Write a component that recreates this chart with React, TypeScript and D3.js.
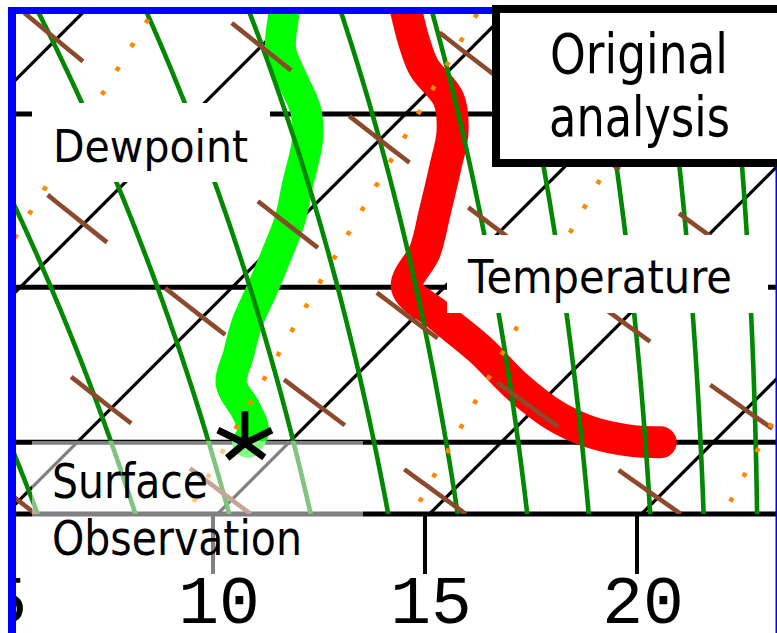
import React from 'react';
import * as d3 from 'd3';

// sounding: temperature profile (hPa, °C)
const tempP = [735, 747, 761, 775, 792, 810, 829, 856, 878, 900, 918, 939, 963, 982, 993, 999, 1000];
const tempT = [1.95, 2.65, 3.46, 4.33, 5.67, 6.54, 7.18, 8.03, 8.69, 9.12, 10.58, 12.32, 14.07, 15.63, 16.85, 18.01, 18.76];
// dewpoint profile
const dewP = [735, 747, 766, 783, 798, 814, 840, 860, 880, 902, 922, 942, 961, 978, 992, 1000];
const dewT = [-0.79, -0.25, 0.55, 1.62, 2.56, 3.29, 4.14, 4.78, 5.27, 5.77, 6.19, 6.73, 7.25, 8.2, 8.88, 9.02];
// surface observation
const sfcP = 1000;
const sfcTd = 9.0;

// diagram background
const isobars = [800, 900, 1000, 1050];
const isotherms = [-10, -5, 0, 5, 10, 15, 20, 25];
const dryTheta = [275, 280, 285, 290, 295, 300, 305];
const moistThetaW = [3.4, 5.8, 8.1, 10.1, 12.0, 13.7, 15.4, 16.9, 18.4, 19.7, 21.0];
const mixRatios = [4, 7, 10, 16];
const xTicks = [5, 10, 15, 20];

const W = 777;
const H = 633;

const Rd = 287.04, Cp = 1005.7, Lv = 2.501e6, eps = 0.622;
const es = (tc: number) => 6.112 * Math.exp((17.67 * tc) / (tc + 243.5));

const moistRate = (tk: number, p: number) => {
  const e = es(tk - 273.15);
  const rs = (eps * e) / (p - e);
  return (Rd * tk + Lv * rs) / (p * (Cp + (Lv * Lv * rs * eps) / (Rd * tk * tk)));
};

// pseudo-adiabat starting at 1000 hPa
const moistLine = (tw: number) => {
  const run = (dp: number, pEnd: number) => {
    let p = 1000, tk = tw + 273.15;
    const out = [{ p, T: tw }];
    while ((dp < 0 && p > pEnd) || (dp > 0 && p < pEnd)) {
      const k1 = moistRate(tk, p);
      const k2 = moistRate(tk + k1 * dp, p + dp);
      tk += ((k1 + k2) / 2) * dp;
      p += dp;
      out.push({ p, T: tk - 273.15 });
    }
    return out;
  };
  return run(2, 1056).reverse().concat(run(-2, 690).slice(1));
};

const dryLine = (theta: number) =>
  d3.range(1050, 689, -5).map(p => ({ p, T: theta * Math.pow(p / 1000, 0.286) - 273.15 }));

const mixLine = (r: number) =>
  d3.range(1050, 689, -5).map(p => {
    const e = ((r / 1000) * p) / (eps + r / 1000);
    const l = Math.log(e / 6.112);
    return { p, T: (243.5 * l) / (17.67 - l) };
  });

export default function App() {
  const y = d3.scaleLog().domain([800, 1050]).range([114, 514]);
  const xT = d3.scaleLinear().domain([10, 20]).range([213, 637]);
  const skewBase = 518.5;
  const sx = (T: number, p: number) => xT(T) + (skewBase - y(p));

  const line = d3.line<{ p: number; T: number }>()
    .x(d => sx(d.T, d.p))
    .y(d => y(d.p));
  const smooth = d3.line<{ p: number; T: number }>()
    .x(d => sx(d.T, d.p))
    .y(d => y(d.p))
    .curve(d3.curveCatmullRom.alpha(0.5));

  const temp = tempP.map((p, i) => ({ p, T: tempT[i] }));
  const dew = dewP.map((p, i) => ({ p, T: dewT[i] }));

  const font = "'DejaVu Sans', Verdana, sans-serif";
  const cx = sx(sfcTd, sfcP) - 2;
  const cy = y(sfcP) + 1;
  const arms = [[-90, 32], [-154, 30], [-26, 30], [140, 23], [36, 24]];

  return (
    <svg width={W} height={H} style={{ position: 'absolute', left: 0, top: 0, background: '#fff' }}>
      <defs>
        <clipPath id="plot">
          <rect x={16} y={14} width={761} height={500} />
        </clipPath>
        <clipPath id="plotx">
          <rect x={16} y={0} width={761} height={H} />
        </clipPath>
      </defs>
      <rect width={W} height={H} fill="#fff" />

      {/* isobars */}
      <g clipPath="url(#plotx)">
        {isobars.map(p => (
          <line key={p} x1={16} x2={W} y1={y(p)} y2={y(p)} stroke="#000" strokeWidth={5} />
        ))}
      </g>

      <g clipPath="url(#plot)">
        {isotherms.map(t => (
          <line key={t} x1={sx(t, 1050)} y1={y(1050)} x2={sx(t, 690)} y2={y(690)} stroke="#000" strokeWidth={3.3} />
        ))}

        <path d={smooth(temp) || ''} fill="none" stroke="#ff0000" strokeWidth={32}
          strokeLinecap="round" strokeLinejoin="round" />
        <path d={smooth(dew) || ''} fill="none" stroke="#00ff00" strokeWidth={31}
          strokeLinecap="round" strokeLinejoin="round" />

        {moistThetaW.map(tw => (
          <path key={tw} d={line(moistLine(tw)) || ''} fill="none" stroke="#008800" strokeWidth={4.6} />
        ))}
        {dryTheta.map(th => (
          <path key={th} d={line(dryLine(th)) || ''} fill="none" stroke="#8b4a2b" strokeWidth={4.6}
            strokeDasharray="76 74" />
        ))}
        {mixRatios.map(r => (
          <path key={r} d={line(mixLine(r)) || ''} fill="none" stroke="#ff8800" strokeWidth={4.6}
            strokeDasharray="4.6 23.4" strokeDashoffset={14} />
        ))}
      </g>

      {/* temperature axis */}
      <g clipPath="url(#plotx)">
        {xTicks.map(t => (
          <line key={t} x1={xT(t)} x2={xT(t)} y1={514} y2={574} stroke="#000" strokeWidth={4} />
        ))}
        {xTicks.filter(t => xT(t) < 16).map(t => (
          <text key={t} x={xT(t) + 6} y={623} textAnchor="middle" fontFamily="'Liberation Mono', monospace"
            fontSize={68}>{t}</text>
        ))}
      </g>
      {xTicks.filter(t => xT(t) >= 16).map(t => (
        <text key={t} x={xT(t) + 6} y={623} textAnchor="middle" fontFamily="'Liberation Mono', monospace"
          fontSize={68}>{t}</text>
      ))}

      {/* labels */}
      <rect x={32} y={103} width={238} height={79} fill="#fff" />
      <text x={53} y={162} fontFamily={font} fontSize={45} textLength={195} lengthAdjust="spacingAndGlyphs">Dewpoint</text>

      <rect x={447} y={235} width={321} height={78} fill="#fff" />
      <text x={468} y={293} fontFamily={font} fontSize={47} textLength={264} lengthAdjust="spacingAndGlyphs">Temperature</text>

      <rect x={496} y={9} width={300} height={154} fill="#fff" stroke="#000" strokeWidth={8} />
      <text x={550} y={73} fontFamily={font} fontSize={55} textLength={178} lengthAdjust="spacingAndGlyphs">Original</text>
      <text x={549} y={136} fontFamily={font} fontSize={55} textLength={181} lengthAdjust="spacingAndGlyphs">analysis</text>

      <rect x={32} y={441} width={331} height={135} fill="#fff" fillOpacity={0.5} />
      <text x={52} y={498} fontFamily={font} fontSize={48} textLength={156} lengthAdjust="spacingAndGlyphs">Surface</text>
      <text x={52} y={555} fontFamily={font} fontSize={48} textLength={250} lengthAdjust="spacingAndGlyphs">Observation</text>

      <g stroke="#000" strokeWidth={7}>
        {arms.map(([a, l], i) => (
          <line key={i} x1={cx} y1={cy}
            x2={cx + l * Math.cos((a * Math.PI) / 180)} y2={cy + l * Math.sin((a * Math.PI) / 180)} />
        ))}
      </g>

      {/* frame */}
      <rect x={8} y={7} width={8} height={H - 7} fill="#0000ff" />
      <rect x={8} y={7} width={484} height={7} fill="#0000ff" />
      <rect x={775.5} y={167} width={1.5} height={H - 167} fill="#0000ff" />
    </svg>
  );
}
